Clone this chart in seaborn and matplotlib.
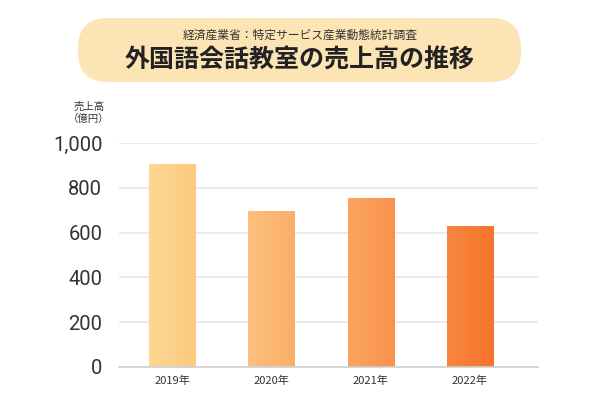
import numpy as np
import pandas as pd
import matplotlib
matplotlib.use("Agg")
import matplotlib.pyplot as plt
from matplotlib.patches import FancyBboxPatch
from matplotlib.colors import to_rgb
import seaborn as sns

years = ["2019年", "2020年", "2021年", "2022年"]
sales = [906, 695, 754, 631]
left_colors = ["#FDD893", "#FCC07E", "#FAA462", "#F8863F"]
right_colors = ["#FCC97E", "#FAAF69", "#F8914B", "#F6742C"]
yticks = [0, 200, 400, 600, 800, 1000]
ytick_labels = ["0", "200", "400", "600", "800", "1,000"]
title = "外国語会話教室の売上高の推移"
subtitle = "経済産業省：特定サービス産業動態統計調査"
ylabel = "売上高\n（億円）"

sns.set_theme(style="white")
plt.rcParams["font.family"] = ["Noto Sans CJK JP", "DejaVu Sans"]

fig = plt.figure(figsize=(6, 4), dpi=100)

# background overlay axes in pixel coordinates for the banner
bg = fig.add_axes([0, 0, 1, 1], zorder=0)
bg.set_xlim(0, 600)
bg.set_ylim(400, 0)
bg.axis("off")
banner = FancyBboxPatch((78, 18), 521 - 78, 82 - 18,
                        boxstyle="round,pad=0,rounding_size=30",
                        facecolor="#FDE4B5", edgecolor="none")
bg.add_patch(banner)
bg.text(300, 35, subtitle, fontsize=8.5, color="#333333",
        ha="center", va="center")
bg.text(300, 61, title, fontsize=18, fontweight="bold",
        color="#222222", ha="center", va="center")
bg.text(89, 102, ylabel, fontsize=7.5, color="#333333",
        ha="center", va="top", linespacing=1.2)

ax = fig.add_axes([119/600, 1-367/400, (538-119)/600, (367-143)/400], zorder=1)
ax.patch.set_alpha(0)

df = pd.DataFrame({"year": years, "sales": sales})
sns.barplot(data=df, x="year", y="sales", ax=ax, width=0.465,
            color="#FCC97E", saturation=1, edgecolor="none")

# gradient fill for each bar
for patch, lc, rc in zip(ax.patches, left_colors, right_colors):
    x0, y0 = patch.get_x(), patch.get_y()
    w, h = patch.get_width(), patch.get_height()
    grad = np.linspace(0, 1, 64)
    c0, c1 = np.array(to_rgb(lc)), np.array(to_rgb(rc))
    img = (c0[None, :] * (1 - grad[:, None]) + c1[None, :] * grad[:, None])[None, :, :]
    im = ax.imshow(img, extent=[x0, x0 + w, y0, y0 + h], aspect="auto",
                   interpolation="bilinear", zorder=3)
    im.set_clip_path(patch)
    patch.set_zorder(2)

ax.set_xlim(-0.534, 3.686)
ax.set_ylim(0, 1000)
ax.set_yticks(yticks)
ax.set_yticklabels(ytick_labels, fontsize=14.5, color="#333333",
                   family=["Roboto", "DejaVu Sans"])
ax.tick_params(axis="y", length=0, pad=12)
ax.tick_params(axis="x", length=0, pad=6, labelsize=8, labelcolor="#333333")
ax.set_xlabel("")
ax.set_ylabel("")
ax.grid(axis="y", color="#e8e8e8", linewidth=1.2, zorder=0)
ax.set_axisbelow(True)
for s in ["top", "right", "left"]:
    ax.spines[s].set_visible(False)
ax.spines["bottom"].set_color("#d0d0d0")
ax.spines["bottom"].set_linewidth(1.2)
ax.spines["bottom"].set_zorder(5)

# small tick marks at category boundaries
ax.set_xticks([-0.534, 0.5, 1.5, 2.5, 3.686], minor=True)
ax.tick_params(axis="x", which="minor", length=3, color="#d0d0d0", width=1, direction="out")

fig.savefig("out.png", dpi=100, facecolor="white")
